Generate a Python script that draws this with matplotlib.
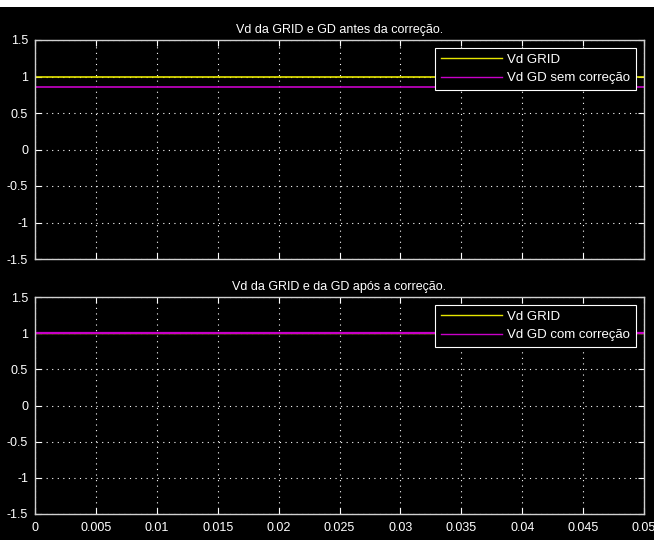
import numpy as np
import matplotlib
matplotlib.use("Agg")
import matplotlib.pyplot as plt

plt.rcParams['font.family'] = ['Liberation Sans Narrow', 'Liberation Sans', 'DejaVu Sans']

# Simulation time (s) and d-axis voltages (pu)
t = [0.0, 0.05]
vd_grid_before = [1.0, 1.0]
vd_gd_before = [0.86, 0.86]
vd_grid_after = [1.0, 1.0]
vd_gd_after = [1.0, 1.0]

titles = ["Vd da GRID e GD antes da correção.",
          "Vd da GRID e da GD após a correção."]
labels_top = ["Vd GRID", "Vd GD sem correção"]
labels_bottom = ["Vd GRID", "Vd GD com correção"]

xticks = np.arange(0, 0.0501, 0.005)
xticklabels = ["0", "0.005", "0.01", "0.015", "0.02", "0.025", "0.03", "0.035", "0.04", "0.045", "0.05"]
yticks = [-1.5, -1, -0.5, 0, 0.5, 1, 1.5]
yticklabels = ["-1.5", "-1", "-0.5", "0", "0.5", "1", "1.5"]

yellow = "#e6e600"
magenta = "#c800c8"

fig = plt.figure(figsize=(6.54, 5.40), dpi=100, facecolor="black")
ax1 = fig.add_axes([35 / 654, 1 - 259 / 540, 609 / 654, 219 / 540])
ax2 = fig.add_axes([35 / 654, 1 - 514 / 540, 609 / 654, 217 / 540])


def style(ax, title, show_x):
    ax.set_facecolor("black")
    ax.set_xlim(0, 0.05)
    ax.set_ylim(-1.5, 1.5)
    ax.set_xticks(xticks)
    ax.set_yticks(yticks)
    ax.set_yticklabels(yticklabels)
    if show_x:
        ax.set_xticklabels(xticklabels)
    else:
        ax.set_xticklabels([])
    ax.tick_params(direction="in", colors="white", labelsize=9, length=4,
                   top=True, right=True)
    ax.tick_params(axis="y", pad=5)
    ax.tick_params(axis="x", pad=6)
    for s in ax.spines.values():
        s.set_color("#d0d0d0")
        s.set_linewidth(1.0)
    ax.grid(True, color="white", linestyle=(0, (1, 4)), linewidth=0.8)
    ax.set_title(title, color="white", fontsize=9, pad=5)


ax1.plot(t, vd_grid_before, color=yellow, linewidth=1.2, label=labels_top[0])
ax1.plot(t, vd_gd_before, color=magenta, linewidth=1.2, label=labels_top[1])
style(ax1, titles[0], False)

ax2.plot(t, vd_grid_after, color=yellow, linewidth=1.0, label=labels_bottom[0])
ax2.plot(t, vd_gd_after, color=magenta, linewidth=1.6, label=labels_bottom[1])
style(ax2, titles[1], True)

for ax in (ax1, ax2):
    leg = ax.legend(loc="upper right", fontsize=9.5, facecolor="black", edgecolor="white",
                    fancybox=False, framealpha=1, borderaxespad=0.6, handlelength=4.6,
                    handletextpad=0.4, borderpad=0.45, labelspacing=0.45)
    leg.get_frame().set_linewidth(0.8)
    for line in leg.get_lines():
        line.set_linewidth(1.0)
    for txt in leg.get_texts():
        txt.set_color("white")

fig.patches.append(plt.Rectangle((0, 1 - 7 / 540), 1, 7 / 540, transform=fig.transFigure,
                                 facecolor="white", edgecolor="none"))

fig.savefig("out.png", dpi=100, facecolor="black")
